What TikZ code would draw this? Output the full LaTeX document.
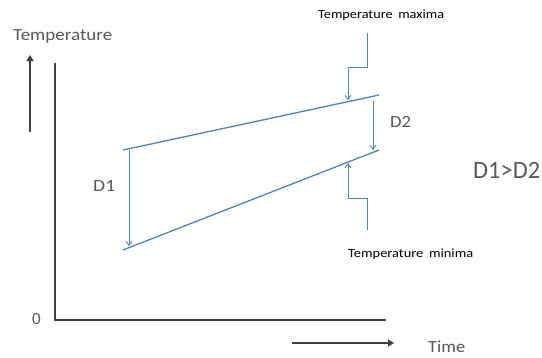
\documentclass[tikz,border=0pt]{standalone}
\usepackage{graphicx}
\usepackage{fontspec}
\setmainfont{Carlito}
\usetikzlibrary{arrows.meta}
\definecolor{lineblue}{HTML}{4F81BD}
\definecolor{axisgray}{HTML}{404040}
\definecolor{textgray}{HTML}{595959}
\newcommand{\wtext}[2]{\resizebox{#1pt}{\height}{#2}}
\begin{document}
\begin{tikzpicture}[x=1pt,y=-1pt,
  axis/.style={draw=axisgray,line width=2.2pt},
  bigarrow/.style={draw=axisgray,line width=2.6pt,-{Triangle[length=6pt,width=7pt]}},
  tline/.style={draw=lineblue,line width=1.3pt},
  darrow/.style={draw=lineblue,line width=0.9pt,-{Straight Barb[length=4pt,width=6pt]}},
  lbl/.style={text=textgray,inner sep=0pt,anchor=base west,font=\fontsize{17}{19}\selectfont},
  small/.style={text=black,inner sep=0pt,anchor=base west,font=\fontsize{12.5}{14}\selectfont}
]
\useasboundingbox (0,0) rectangle (542,357);
% axes
\coordinate (o) at (55,320);
\coordinate (ytop) at (55,63);
\coordinate (xend) at (386,320);
\draw[axis] (ytop) -- (o) -- (xend);
% axis arrows
\coordinate (ta1) at (30,132);
\coordinate (ta2) at (30,55);
\draw[bigarrow] (ta1) -- (ta2);
\coordinate (xa1) at (292,343);
\coordinate (xa2) at (394,343);
\draw[bigarrow] (xa1) -- (xa2);
% labels
\node[lbl] (templ) at (13,40) {\wtext{99}{Temperature}};
\node[lbl] (zero) at (32,324) {0};
\node[lbl] (time) at (428,352) {\wtext{37}{Time}};
% lines
\coordinate (ul) at (123,150);
\coordinate (ur) at (379,95);
\coordinate (ll) at (123,250);
\coordinate (lr) at (379,150);
\draw[tline] (ul) -- (ur);
\draw[tline] (ll) -- (lr);
% D1
\coordinate (d1a) at (129,150);
\coordinate (d1b) at (129,246);
\draw[darrow] (d1a) -- (d1b);
\node[lbl] (d1) at (93,191) {\wtext{22}{D1}};
% D2
\coordinate (d2a) at (373,101);
\coordinate (d2b) at (373,150);
\draw[darrow] (d2a) -- (d2b);
\node[lbl] (d2) at (390,127) {\wtext{21}{D2}};
% D1>D2
\node[lbl,font=\fontsize{25}{28}\selectfont] (cmp) at (473,178) {\wtext{67}{D1>D2}};
% maxima
\node[small] (tmax) at (318,18) {\wtext{126}{Temperature\, maxima}};
\coordinate (m1) at (367,33);
\coordinate (m2) at (367,67);
\coordinate (m3) at (348,67);
\coordinate (m4) at (348,100);
\draw[darrow] (m1) -- (m2) -- (m3) -- (m4);
% minima
\node[small] (tmin) at (348,257) {\wtext{125}{Temperature\, minima}};
\coordinate (n1) at (367,230);
\coordinate (n2) at (367,198);
\coordinate (n3) at (348,198);
\coordinate (n4) at (348,163);
\draw[darrow] (n1) -- (n2) -- (n3) -- (n4);
\end{tikzpicture}
\end{document}
